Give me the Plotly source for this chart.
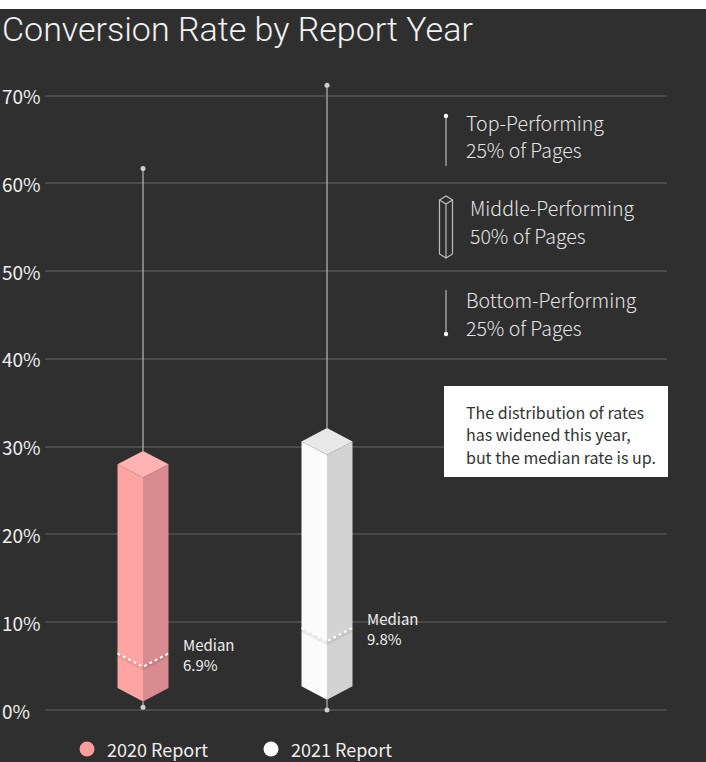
import plotly.graph_objects as go

# ---------------- data ----------------
years = ["2020 Report", "2021 Report"]
mins = [0.3, 0.0]
q1 = [2.5, 2.7]
medians = [6.9, 9.8]
q3 = [28.0, 30.6]
maxs = [61.7, 71.2]
median_labels = ["6.9%", "9.8%"]
y_ticks = [0, 10, 20, 30, 40, 50, 60, 70]
y_tick_labels = ["0%", "10%", "20%", "30%", "40%", "50%", "60%", "70%"]

# ---------------- styles ----------------
W, H = 706, 762
BG = "#2f2f2f"
GRID = "#4a4a4a"
TXT = "#eeeeee"
BODY = "Noto Sans CJK SC, Noto Sans, sans-serif"
face_left = ["#ffa3a3", "#fbfbfb"]
face_right = ["#d98c8f", "#d3d3d3"]
face_top = ["#ffb3b3", "#e8e8e8"]
legend_dot = ["#ff9c9c", "#ffffff"]
WHISK = "#9c9c9c"
HALF_W = 0.1386   # half box width (x units)
DEPTH = 1.52      # isometric depth (y units, %)
MED_SHIFT = -0.45

# plot area in pixels
L, R, T, B = 45, 39, 60, 30
PW, PH = W - L - R, H - T - B
X_RANGE = [-(143 - L) / 184, 1 + (W - R - 327) / 184]
Y_RANGE = [-(T + PH - 710) / 8.776, (710 - T) / 8.776]


def px(xp):
    return (xp - L) / PW


def py(yp):
    return 1 - (yp - T) / PH


fig = go.Figure()

for i, name in enumerate(years):
    x = i
    # whiskers
    fig.add_trace(go.Scatter(x=[x, x], y=[q3[i] + DEPTH, maxs[i]], mode="lines",
                             line=dict(color=WHISK, width=1.5), showlegend=False, hoverinfo="skip"))
    fig.add_trace(go.Scatter(x=[x, x], y=[mins[i], q1[i] - DEPTH], mode="lines",
                             line=dict(color=WHISK, width=1.5), showlegend=False, hoverinfo="skip"))
    fig.add_trace(go.Scatter(x=[x, x], y=[mins[i], maxs[i]], mode="markers",
                             marker=dict(color="#cfcfcf", size=5), showlegend=False, hoverinfo="skip"))
    # left face
    fig.add_trace(go.Scatter(x=[x - HALF_W, x, x, x - HALF_W, x - HALF_W],
                             y=[q1[i], q1[i] - DEPTH, q3[i] - DEPTH, q3[i], q1[i]],
                             fill="toself", fillcolor=face_left[i], mode="lines",
                             line=dict(width=0, color=face_left[i]), showlegend=False, hoverinfo="skip"))
    # right face
    fig.add_trace(go.Scatter(x=[x, x + HALF_W, x + HALF_W, x, x],
                             y=[q1[i] - DEPTH, q1[i], q3[i], q3[i] - DEPTH, q1[i] - DEPTH],
                             fill="toself", fillcolor=face_right[i], mode="lines",
                             line=dict(width=0, color=face_right[i]), showlegend=False, hoverinfo="skip"))
    # top face
    fig.add_trace(go.Scatter(x=[x - HALF_W, x, x + HALF_W, x, x - HALF_W],
                             y=[q3[i], q3[i] + DEPTH, q3[i], q3[i] - DEPTH, q3[i]],
                             fill="toself", fillcolor=face_top[i], mode="lines",
                             line=dict(width=0, color=face_top[i]), showlegend=False, hoverinfo="skip"))
    # median
    m = medians[i] + MED_SHIFT
    fig.add_trace(go.Scatter(x=[x - HALF_W, x, x + HALF_W], y=[m - 0.2, m - DEPTH - 0.2, m - 0.2],
                             mode="lines", line=dict(color="rgba(0,0,0,0.07)", width=4),
                             showlegend=False, hoverinfo="skip"))
    fig.add_trace(go.Scatter(x=[x - HALF_W, x, x + HALF_W], y=[m, m - DEPTH, m],
                             mode="lines", line=dict(color="#ffffff", width=2, dash="3px,3px"),
                             showlegend=False, hoverinfo="skip"))
    fig.add_annotation(x=x + 0.205, y=medians[i] - 0.55, xref="x", yref="y",
                       text="Median<br>" + median_labels[i], showarrow=False,
                       xanchor="left", yanchor="middle", align="left",
                       font=dict(family=BODY, size=15, color=TXT))

# y tick labels (left aligned)
for v, lab in zip(y_ticks, y_tick_labels):
    fig.add_annotation(x=px(0), y=v, xref="paper", yref="y", text=lab, showarrow=False,
                       xanchor="left", yanchor="middle", font=dict(family=BODY, size=19, color=TXT))

shapes = []
# white strip at top
shapes.append(dict(type="rect", xref="paper", yref="paper", x0=px(0), x1=px(W), y0=py(0), y1=py(9),
                   fillcolor="#ffffff", line=dict(width=0), layer="above"))

# bottom legend (manual)
LEG_Y = 749
for i, name in enumerate(years):
    cx = 87 + 184 * i
    shapes.append(dict(type="circle", xref="paper", yref="paper",
                       x0=px(cx - 7.5), x1=px(cx + 7.5), y0=py(LEG_Y + 7.5), y1=py(LEG_Y - 7.5),
                       fillcolor=legend_dot[i], line=dict(width=0)))
    fig.add_annotation(x=px(cx + 19), y=py(LEG_Y), xref="paper", yref="paper", text=name,
                       showarrow=False, xanchor="left", yanchor="middle", borderpad=0,
                       font=dict(family=BODY, size=18, color=TXT))

# key icons (right)
ICON_X = 446
shapes.append(dict(type="line", xref="paper", yref="paper", x0=px(ICON_X), x1=px(ICON_X),
                   y0=py(116), y1=py(166), line=dict(color=WHISK, width=1.5)))
shapes.append(dict(type="line", xref="paper", yref="paper", x0=px(ICON_X), x1=px(ICON_X),
                   y0=py(290), y1=py(334), line=dict(color=WHISK, width=1.5)))
for yy in (116, 334):
    shapes.append(dict(type="circle", xref="paper", yref="paper", x0=px(ICON_X - 2.2), x1=px(ICON_X + 2.2),
                       y0=py(yy - 2.2), y1=py(yy + 2.2), fillcolor="#ffffff", line=dict(width=0)))
# prism outline
xl, xc, xr = px(439.5), px(446), px(452.5)
yt_s, yt_a, yt_f = py(200), py(196), py(204)
yb_s, yb_f = py(254), py(258)
prism = (f"M{xl},{yt_s} L{xc},{yt_a} L{xr},{yt_s} L{xc},{yt_f} Z "
         f"M{xl},{yt_s} L{xl},{yb_s} L{xc},{yb_f} L{xr},{yb_s} L{xr},{yt_s} "
         f"M{xc},{yt_f} L{xc},{yb_f}")
shapes.append(dict(type="path", xref="paper", yref="paper", path=prism,
                   line=dict(color="#bdbdbd", width=1.2)))

# annotation box
shapes.append(dict(type="rect", xref="paper", yref="paper", x0=px(444), x1=px(668), y0=py(386), y1=py(477),
                   fillcolor="#ffffff", line=dict(width=0)))

key_texts = [
    (464, 122, "Top-Performing"), (464, 150, "25% of Pages"),
    (468, 207, "Middle-Performing"), (468, 235, "50% of Pages"),
    (464, 299, "Bottom-Performing"), (464, 327, "25% of Pages"),
]
for xx, yy, t in key_texts:
    fig.add_annotation(x=px(xx), y=py(yy), xref="paper", yref="paper", text=t, showarrow=False,
                       xanchor="left", yanchor="middle",
                       font=dict(family=BODY, size=19.5, color="#e4e4e4", weight=300))

note_lines = ["The distribution of rates", "has widened this year,", "but the median rate is up."]
for k, t in enumerate(note_lines):
    fig.add_annotation(x=px(464), y=py(411.5 + 22.7 * k), xref="paper", yref="paper", text=t,
                       showarrow=False, xanchor="left", yanchor="middle",
                       font=dict(family=BODY, size=16, color="#333333"))

fig.update_layout(
    width=W, height=H,
    margin=dict(l=L, r=R, t=T, b=B),
    paper_bgcolor=BG, plot_bgcolor=BG,
    shapes=shapes,
    title=dict(text="Conversion Rate by Report Year", x=2 / W, xanchor="left", xref="container",
               y=1 - 29 / H, yanchor="middle", yref="container",
               font=dict(family="Roboto", size=34, color="#f2f2f2", weight=300)),
    xaxis=dict(range=X_RANGE, visible=False, fixedrange=True),
    yaxis=dict(range=Y_RANGE, tickvals=y_ticks, showticklabels=False, showgrid=True,
               gridcolor=GRID, gridwidth=1.5, zeroline=False, showline=False, ticks="", fixedrange=True),
    showlegend=False,
)

fig.write_html("out.html")
